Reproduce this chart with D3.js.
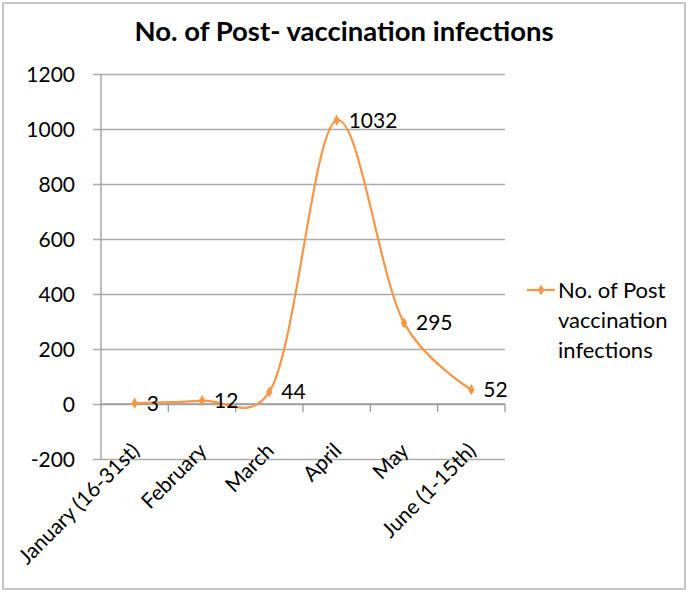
<!DOCTYPE html>
<html>
<head>
<meta charset="utf-8">
<script src="https://cdn.jsdelivr.net/npm/d3@7/dist/d3.min.js"></script>
<style>
  html, body { margin: 0; padding: 0; background: #fff; }
  svg { display: block; font-family: Lato, "Open Sans", sans-serif; }
</style>
</head>
<body>
<svg id="chart" width="691" height="592"></svg>
<script>
// chart data
const categories = ['January (16-31st)', 'February', 'March', 'April', 'May', 'June (1-15th)'];
const infections = [3, 12, 44, 1032, 295, 52];
const yTicks = [-200, 0, 200, 400, 600, 800, 1000, 1200];
const seriesName = ['No. of Post', 'vaccination', 'infections'];
const titleText = 'No. of Post- vaccination infections';

const orange = '#F79646';
const plot = { left: 101, right: 505, top: 74, bottom: 459 };

const svg = d3.select('#chart');

// outer frame
svg.append('rect')
  .attr('x', 3).attr('y', 3)
  .attr('width', 682).attr('height', 586)
  .attr('fill', '#fff')
  .attr('stroke', '#c4c4c4')
  .attr('stroke-width', 2);

svg.append('text')
  .attr('x', 344).attr('y', 41)
  .attr('text-anchor', 'middle')
  .style('font-weight', 'bold')
  .style('font-size', '27.5px')
  .text(titleText);

const x = d3.scaleBand()
  .domain(categories)
  .range([plot.left, plot.right]);

const y = d3.scaleLinear()
  .domain([-200, 1200])
  .range([plot.bottom, plot.top]);

// gridlines + y labels
const yAxis = d3.axisLeft(y)
  .tickValues(yTicks)
  .tickSize(-(plot.right - plot.left + 8))
  .tickPadding(18)
  .tickFormat(d => String(d));

const gy = svg.append('g')
  .attr('transform', `translate(${plot.left - 8},0)`)
  .call(yAxis);
gy.select('.domain').remove();
gy.selectAll('.tick line').attr('stroke', '#ababab').attr('stroke-width', 1.3);
gy.selectAll('.tick text')
  .attr('fill', '#000')
  .attr('dy', '0.36em')
  .style('font-size', '21px')
  .style('font-family', 'Lato, "Open Sans", sans-serif');

// vertical axis line
svg.append('line')
  .attr('x1', plot.left).attr('x2', plot.left)
  .attr('y1', plot.top).attr('y2', plot.bottom)
  .attr('stroke', '#9a9a9a').attr('stroke-width', 1.3);

// category axis at zero, ticks between categories
const gx = svg.append('g')
  .attr('transform', `translate(0,${y(0)})`);
gx.append('line')
  .attr('x1', plot.left).attr('x2', plot.right)
  .attr('stroke', '#9a9a9a').attr('stroke-width', 1.3);
gx.selectAll('line.tk')
  .data(categories)
  .join('line')
  .attr('class', 'tk')
  .attr('x1', d => x(d) + x.bandwidth()).attr('x2', d => x(d) + x.bandwidth())
  .attr('y1', 0).attr('y2', 8)
  .attr('stroke', '#9a9a9a').attr('stroke-width', 1.3);

// rotated category labels
svg.append('g')
  .selectAll('text')
  .data(categories)
  .join('text')
  .attr('transform', d => `translate(${x(d) + x.bandwidth() / 2 + 6},${y(0) + 48}) rotate(-45)`)
  .attr('text-anchor', 'end')
  .style('font-size', '21px')
  .text(d => d);

// smoothed series line
const pts = categories.map((c, i) => ({ cat: c, v: infections[i] }));
const line = d3.line()
  .x(d => x(d.cat) + x.bandwidth() / 2)
  .y(d => y(d.v))
  .curve(d3.curveCatmullRom.alpha(0.2));

svg.append('path')
  .datum(pts)
  .attr('d', line)
  .attr('fill', 'none')
  .attr('stroke', orange)
  .attr('stroke-width', 2.2);

const diamond = d3.symbol().type(d3.symbolDiamond).size(36);
svg.append('g')
  .selectAll('path')
  .data(pts)
  .join('path')
  .attr('d', diamond)
  .attr('transform', d => `translate(${x(d.cat) + x.bandwidth() / 2},${y(d.v)})`)
  .attr('fill', orange);

// data labels
svg.append('g')
  .selectAll('text')
  .data(pts)
  .join('text')
  .attr('x', d => x(d.cat) + x.bandwidth() / 2 + 12)
  .attr('y', d => y(d.v))
  .attr('dy', '0.36em')
  .style('font-size', '21px')
  .text(d => d.v);

// legend
const lg = svg.append('g');
lg.append('line')
  .attr('x1', 527).attr('x2', 555)
  .attr('y1', 290).attr('y2', 290)
  .attr('stroke', orange).attr('stroke-width', 2.2);
lg.append('path')
  .attr('d', diamond)
  .attr('transform', 'translate(541,290)')
  .attr('fill', orange);
lg.selectAll('text')
  .data(seriesName)
  .join('text')
  .attr('x', 558)
  .attr('y', (d, i) => 298 + i * 30)
  .style('font-size', '22px')
  .text(d => d);
</script>
</body>
</html>
